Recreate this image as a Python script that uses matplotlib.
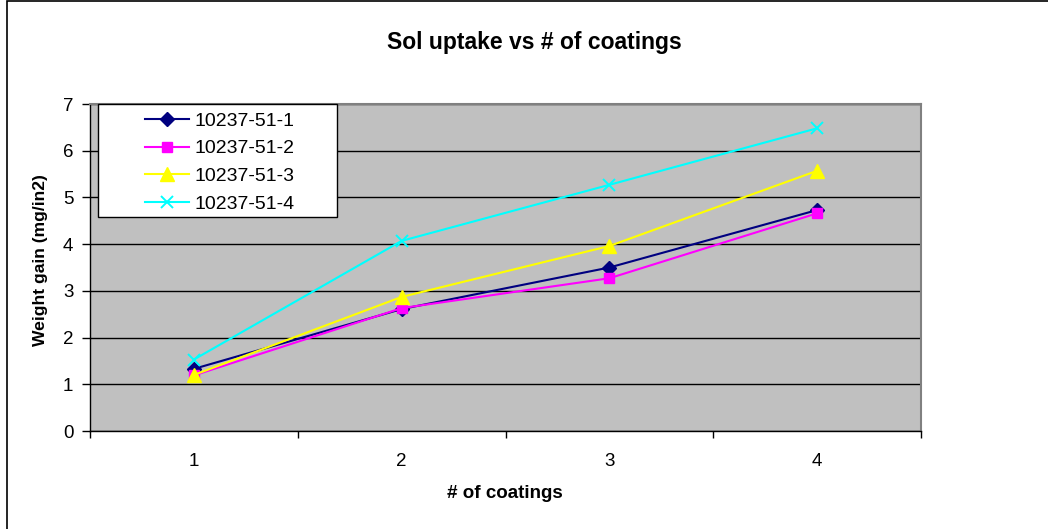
import matplotlib.pyplot as plt
from matplotlib.patches import Rectangle

plt.rcParams['font.family'] = ['Liberation Sans', 'DejaVu Sans']

coatings = [1, 2, 3, 4]
series_names = ['10237-51-1', '10237-51-2', '10237-51-3', '10237-51-4']
gain_51_1 = [1.33, 2.61, 3.50, 4.73]
gain_51_2 = [1.19, 2.63, 3.27, 4.66]
gain_51_3 = [1.20, 2.87, 3.96, 5.57]
gain_51_4 = [1.53, 4.07, 5.27, 6.48]

W, H = 1048, 529
fig = plt.figure(figsize=(W / 100, H / 100), dpi=100)


def fx(px):
    return px / W


def fy(py):
    return 1 - py / H


# outer chart border (only top/left edges fall inside the image)
fig.patches.append(Rectangle((fx(7), -0.1), 1.2, 1.1 - 1 / H, transform=fig.transFigure,
                             fill=False, edgecolor='black', linewidth=1.2))

ax = fig.add_axes([fx(90), fy(431), fx(921 - 90), (431 - 104) / H])
ax.set_facecolor('#c0c0c0')

styles = [
    dict(color='#000080', marker='D', markersize=7.5),
    dict(color='#ff00ff', marker='s', markersize=7.5),
    dict(color='#ffff00', marker='^', markersize=9.5),
    dict(color='#00ffff', marker='x', markersize=9, markeredgewidth=1.4),
]
for vals, name, st in zip([gain_51_1, gain_51_2, gain_51_3, gain_51_4], series_names, styles):
    ax.plot(coatings, vals, linewidth=1.5, label=name, **st)

ax.set_xlim(0.5, 4.5)
ax.set_ylim(0, 7)
ax.set_yticks(range(8))
ax.yaxis.grid(True, color='black', linewidth=1)
ax.set_axisbelow(True)

# category axis: ticks between categories, labels centred on them
ax.set_xticks([0.5, 1.5, 2.5, 3.5, 4.5])
ax.set_xticklabels([])
ax.set_xticks(coatings, minor=True)
ax.set_xticklabels([str(c) for c in coatings], minor=True)
ax.tick_params(axis='x', which='minor', length=0, pad=16, labelsize=13.5)
ax.tick_params(axis='x', which='major', length=5, width=1, color='black')
ax.tick_params(axis='y', length=6, width=1, pad=6, labelsize=13.5)

for side in ['top', 'right']:
    ax.spines[side].set_color('#808080')
    ax.spines[side].set_linewidth(1.5)
for side in ['left', 'bottom']:
    ax.spines[side].set_color('black')
    ax.spines[side].set_linewidth(1)

fig.text(fx(534), fy(42), 'Sol uptake vs # of coatings', ha='center', va='center',
         fontsize=16.5, fontweight='bold')
fig.text(fx(505), fy(494), '# of coatings', ha='center', va='center',
         fontsize=13.5, fontweight='bold')
fig.text(fx(41), fy(260), 'Weight gain (mg/in2)', ha='center', va='center',
         rotation=90, fontsize=12.6, fontweight='bold')

# legend box drawn separately, entries placed inside it
legend_box = Rectangle((fx(98), fy(217)), fx(337 - 98), (217 - 104) / H,
                       transform=fig.transFigure, facecolor='white', edgecolor='black',
                       linewidth=1, zorder=4)
ax.add_artist(legend_box)
legend_box.set_clip_on(False)
leg = ax.legend(loc='upper left', bbox_to_anchor=(fx(145), fy(112)),
                bbox_transform=fig.transFigure, frameon=False, fontsize=14,
                borderpad=0, labelspacing=0.52, handlelength=2.27, handletextpad=0.3,
                borderaxespad=0)
leg.set_zorder(5)

fig.savefig('out.png', dpi=100)
